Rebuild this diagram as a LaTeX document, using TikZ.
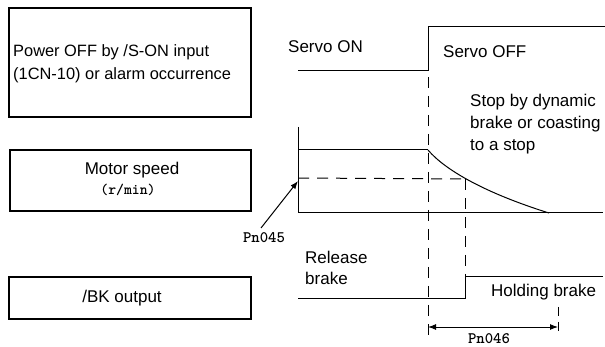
\documentclass[tikz,border=0pt]{standalone}
\usepackage{fontspec}
\setmainfont{Liberation Sans}
\usetikzlibrary{arrows.meta}
\tikzset{
  box/.style={draw, line width=1.1pt, rectangle, inner sep=0pt},
  lbl/.style={inner sep=0pt, font=\fontsize{17}{23}\selectfont},
  mlbl/.style={inner sep=0pt, font=\ttfamily\bfseries\fontsize{16}{18}\selectfont},
  wave/.style={line width=1pt},
  dsh/.style={line width=1pt, dash pattern=on 11pt off 8pt},
  >={Latex[length=8pt,width=6pt]},
}
\begin{document}
\begin{tikzpicture}[x=1pt,y=-1pt]
\useasboundingbox (0,0) rectangle (605,347);
% boxes
\node[box, minimum width=242pt, minimum height=109pt] (b1) at (130,62.5) {};
\node[box, minimum width=241pt, minimum height=61pt] (b2) at (130.5,180.5) {};
\node[box, minimum width=242pt, minimum height=42pt] (b3) at (130,298) {};
\node[lbl, font=\fontsize{16.4}{20}\selectfont, anchor=base west] (t1a) at (13,57) {Power OFF by /S-ON input};
\node[lbl, font=\fontsize{16.4}{20}\selectfont, anchor=base west] (t1b) at (13,80) {(1CN-10) or alarm occurrence};
\node[lbl] (t2) at (132,170) {Motor speed};
\node[mlbl, font=\ttfamily\bfseries\fontsize{15}{17}\selectfont] (t2b) at (128,190) {(r/min)};
\node[lbl] (t3) at (122,298) {/BK output};
% servo signal
\coordinate (s0) at (298,71);
\coordinate (s1) at (428,71);
\coordinate (s2) at (428,27);
\coordinate (s3) at (605,27);
\draw[wave] (s0) -- (s1) -- (s2) -- (s3);
\node[lbl, anchor=west] (son) at (288,47) {Servo ON};
\node[lbl, anchor=west] (soff) at (443,52) {Servo OFF};
\node[lbl, anchor=base west] (stop1) at (470,107) {Stop by dynamic};
\node[lbl, anchor=base west] (stop2) at (470,129) {brake or coasting};
\node[lbl, anchor=base west] (stop3) at (470,151) {to a stop};
% motor speed
\coordinate (m0) at (298,127);
\coordinate (m1) at (298,213);
\coordinate (m2) at (603,213);
\coordinate (mt0) at (298,150);
\coordinate (mt1) at (428,150);
\coordinate (mc) at (465,179);
\coordinate (me) at (549,213);
\draw[wave] (m0) -- (m1) -- (m2);
\draw[wave] (mt0) -- (mt1);
\draw[wave] (mt1) .. controls (445,170) and (485,193) .. (me);
\coordinate (d0) at (298,178);
\draw[dsh] (d0) -- (mc);
% dashed verticals
\coordinate (v0) at (428,77);
\coordinate (v1) at (428,335);
\draw[dsh] (v0) -- (v1);
\coordinate (w1) at (465,277);
\draw[dsh] (mc) -- (w1);
\coordinate (x0) at (558,307);
\coordinate (x1) at (558,335);
\draw[dsh, dash pattern=on 9pt off 6pt] (x0) -- (x1);
% Pn045
\coordinate (p0) at (261,228);
\coordinate (p1) at (298,181);
\draw[line width=1pt, ->] (p0) -- (p1);
\node[mlbl] (pn45) at (264,238) {Pn045};
% brake
\coordinate (k0) at (298,299);
\coordinate (k1) at (465,299);
\coordinate (k2) at (465,277);
\coordinate (k3) at (603,277);
\draw[wave] (k0) -- (k1) -- (k2) -- (k3);
\node[lbl, anchor=west] (rel1) at (305,257) {Release};
\node[lbl, anchor=west] (rel2) at (305,278) {brake};
\node[lbl, anchor=west] (hold) at (491,292) {Holding brake};
% Pn046
\coordinate (a0) at (428,327);
\coordinate (a1) at (558,327);
\draw[line width=1pt, <->] (a0) -- (a1);
\node[mlbl] (pn46) at (489,339) {Pn046};
\end{tikzpicture}
\end{document}
